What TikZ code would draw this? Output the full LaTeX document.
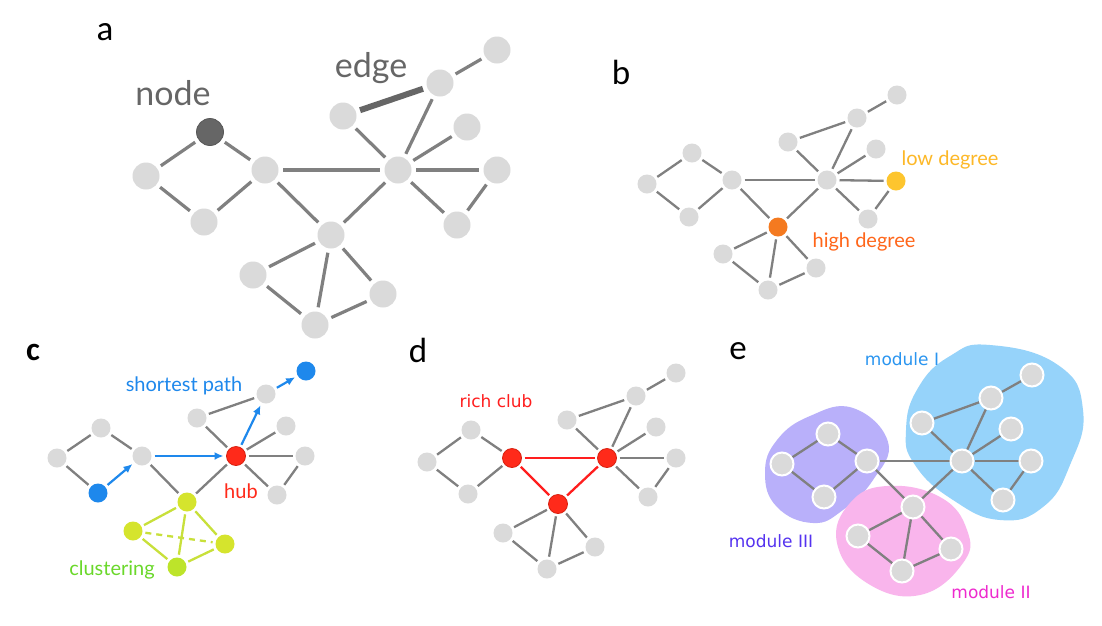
\documentclass[tikz,border=0pt]{standalone}
\usepackage{fontspec}
\setmainfont{Lato}
\newfontfamily\letterfont{Carlito}
\newfontfamily\vfont{DejaVu Sans}
\usetikzlibrary{arrows.meta}
\definecolor{ngray}{HTML}{DADADA}
\definecolor{egray}{HTML}{808080}
\definecolor{dgray}{HTML}{666666}
\definecolor{txtgray}{HTML}{666666}
\definecolor{yel}{HTML}{FDC52E}
\definecolor{yeltxt}{HTML}{FDB827}
\definecolor{ora}{HTML}{F47A20}
\definecolor{oratxt}{HTML}{FF661A}
\definecolor{blu}{HTML}{1E88EC}
\definecolor{redh}{HTML}{FF2A1A}
\definecolor{redo}{HTML}{D8200F}
\definecolor{grn}{HTML}{D5E42D}
\definecolor{grn2}{HTML}{BDE42A}
\definecolor{grnline}{HTML}{C8E03A}
\definecolor{grntxt}{HTML}{6AD82A}
\definecolor{richred}{HTML}{FF1E1E}
\definecolor{blobb}{HTML}{96D3FA}
\definecolor{blobp}{HTML}{B9B0FA}
\definecolor{blobk}{HTML}{F9B5EC}
\definecolor{mtxtb}{HTML}{2A95F0}
\definecolor{mtxtp}{HTML}{5533F0}
\definecolor{mtxtk}{HTML}{EE2ACE}
\pgfdeclarelayer{blobs}
\pgfdeclarelayer{edges}
\pgfsetlayers{blobs,edges,main}
\tikzset{
  pa/.style={circle,fill=ngray,inner sep=0pt,minimum size=27pt,outer sep=4.5pt},
  pb/.style={circle,fill=ngray,inner sep=0pt,minimum size=19pt,outer sep=3pt},
  pe/.style={circle,fill=ngray,draw=white,line width=2pt,inner sep=0pt,minimum size=23pt},
  ea/.style={draw=egray,line width=3.2pt},
  eb/.style={draw=egray,line width=2.3pt},
  panlab/.style={font=\letterfont\fontsize{35}{35}\selectfont,text=black,inner sep=0pt},
  biglab/.style={font=\fontsize{34}{34}\selectfont,text=txtgray,anchor=base,inner sep=0pt},
  smlab/.style={font=\fontsize{20}{20}\selectfont,anchor=base,inner sep=0pt},
  vlab/.style={font=\vfont\fontsize{17}{17}\selectfont,anchor=base,inner sep=0pt},
  barr/.style={draw=blu,line width=2.2pt,-{Latex[length=9pt,width=8pt]}},
  gline/.style={draw=grnline,line width=2.3pt},
  rline/.style={draw=richred,line width=2.3pt},
}
\begin{document}
\begin{tikzpicture}[x=1pt,y=-1pt]
\begin{pgfonlayer}{blobs}
\fill[white] (0,0) rectangle (1102,625);
\useasboundingbox (0,0) rectangle (1102,625);
\end{pgfonlayer}
% ---------------- panel a
\node[panlab] (la) at (105,32) {a};
\node[biglab] (tnode) at (173,105) {node};
\node[biglab] (tedge) at (371,77) {edge};
\node[pa] (aL) at (146,176) {};
\node[pa,fill=dgray,draw=dgray!85!black,line width=0.8pt] (aT) at (210,132) {};
\node[pa] (aB) at (204,222) {};
\node[pa] (aH1) at (265,170) {};
\node[pa] (aH) at (398,170) {};
\node[pa] (aEL) at (343,116) {};
\node[pa] (aTE) at (440,83) {};
\node[pa] (aTF) at (497,50) {};
\node[pa] (aRU) at (467,127) {};
\node[pa] (aR) at (497,170) {};
\node[pa] (aRL) at (457,225) {};
\node[pa] (aLH) at (331,235) {};
\node[pa] (aLL) at (253,275) {};
\node[pa] (aLR) at (383,294) {};
\node[pa] (aLB) at (315,325) {};
\begin{pgfonlayer}{edges}
\foreach \u/\v in {L/T,T/H1,L/B,B/H1,H1/H,H1/LH,H/LH,H/EL,TE/H,TE/TF,H/RU,H/R,H/RL,R/RL,LH/LL,LH/LB,LH/LR,LL/LB,LB/LR}
  \draw[ea] (a\u) -- (a\v);
\draw[draw=dgray,line width=6pt] (aEL) -- (aTE);
\end{pgfonlayer}
% ---------------- panel b
\node[panlab] (lb) at (621,72) {b};
\node[smlab,text=yeltxt] (tlow) at (950,165) {low degree};
\node[smlab,text=oratxt] (thigh) at (864,247) {high degree};
\node[pb] (bL) at (647,184) {};
\node[pb] (bT) at (692,153) {};
\node[pb] (bB) at (689,217) {};
\node[pb] (bH1) at (732,180) {};
\node[pb] (bH) at (827,180) {};
\node[pb] (bEL) at (788,142) {};
\node[pb] (bTE) at (857,118) {};
\node[pb] (bTF) at (897,95) {};
\node[pb] (bRU) at (876,149) {};
\node[pb,fill=yel] (bR) at (896,181) {};
\node[pb] (bRL) at (868,219) {};
\node[pb,fill=ora] (bLH) at (778,227) {};
\node[pb] (bLL) at (723,254) {};
\node[pb] (bLR) at (816,268) {};
\node[pb] (bLB) at (768,290) {};
\begin{pgfonlayer}{edges}
\foreach \u/\v in {L/T,T/H1,L/B,B/H1,H1/H,H1/LH,H/LH,H/EL,EL/TE,TE/H,TE/TF,H/RU,H/R,H/RL,R/RL,LH/LL,LH/LB,LH/LR,LL/LB,LB/LR}
  \draw[eb] (b\u) -- (b\v);
\end{pgfonlayer}
% ---------------- panel c
\node[panlab,font=\letterfont\bfseries\fontsize{33}{33}\selectfont] (lc) at (33,352) {c};
\node[smlab,text=blu] (tsp) at (184,391) {shortest path};
\node[smlab,text=redh] (thub) at (241,498) {hub};
\node[smlab,text=grntxt] (tclu) at (112,575) {clustering};
\node[pb] (cL) at (57,458) {};
\node[pb] (cT) at (101,428) {};
\node[pb,fill=blu] (cB) at (98,493) {};
\node[pb] (cH1) at (142,456) {};
\node[pb,fill=redh,draw=redo,line width=0.8pt] (cH) at (236,456) {};
\node[pb] (cEL) at (197,418) {};
\node[pb] (cTE) at (266,394) {};
\node[pb,fill=blu] (cTF) at (306,371) {};
\node[pb] (cRU) at (286,426) {};
\node[pb] (cR) at (305,456) {};
\node[pb] (cRL) at (277,495) {};
\node[pb,fill=grn] (cLH) at (187,502) {};
\node[pb,fill=grn] (cLL) at (133,531) {};
\node[pb,fill=grn] (cLR) at (225,544) {};
\node[pb,fill=grn2] (cLB) at (177,567) {};
\begin{pgfonlayer}{edges}
\foreach \u/\v in {L/T,T/H1,L/B,H1/LH,H/LH,H/EL,EL/TE,H/RU,H/R,H/RL,R/RL}
  \draw[eb] (c\u) -- (c\v);
\foreach \u/\v in {LH/LL,LH/LB,LH/LR,LL/LB,LB/LR}
  \draw[gline] (c\u) -- (c\v);
\draw[gline,dash pattern=on 6pt off 5pt] (cLL) -- (cLR);
\end{pgfonlayer}
\draw[barr] (cB) -- (cH1);
\draw[barr] (cH1) -- (cH);
\draw[barr] (cH) -- (cTE);
\draw[barr] (cTE) -- (cTF);
% ---------------- panel d
\node[panlab] (ld) at (418,350) {d};
\node[vlab,text=richred] (trich) at (496,407) {rich club};
\node[pb] (dL) at (427,462) {};
\node[pb] (dT) at (471,430) {};
\node[pb] (dB) at (468,494) {};
\node[pb,fill=redh,draw=redo,line width=0.8pt] (dH1) at (512,458) {};
\node[pb,fill=redh,draw=redo,line width=0.8pt] (dH) at (607,458) {};
\node[pb] (dEL) at (567,420) {};
\node[pb] (dTE) at (636,396) {};
\node[pb] (dTF) at (676,373) {};
\node[pb] (dRU) at (656,427) {};
\node[pb] (dR) at (676,458) {};
\node[pb] (dRL) at (648,497) {};
\node[pb,fill=redh,draw=redo,line width=0.8pt] (dLH) at (558,504) {};
\node[pb] (dLL) at (503,533) {};
\node[pb] (dLR) at (595,547) {};
\node[pb] (dLB) at (547,569) {};
\begin{pgfonlayer}{edges}
\foreach \u/\v in {L/T,T/H1,L/B,B/H1,H/EL,EL/TE,TE/H,TE/TF,H/RU,H/R,H/RL,R/RL,LH/LL,LH/LB,LH/LR,LL/LB,LB/LR}
  \draw[eb] (d\u) -- (d\v);
\foreach \u/\v in {H1/H,H1/LH,H/LH}
  \draw[rline] (d\u) -- (d\v);
\end{pgfonlayer}
% ---------------- panel e
\node[panlab] (le) at (738,351) {e};
\node[vlab,text=mtxtb] (tm1) at (902,365) {module I};
\node[vlab,text=mtxtp] (tm3) at (771,547) {module III};
\node[vlab,text=mtxtk] (tm2) at (991,598) {module II};
\begin{pgfonlayer}{blobs}
\fill[blobb] plot[smooth cycle,tension=0.8] coordinates {(990,345) (1058,365) (1083,410) (1070,465) (1043,507) (1000,520) (953,500) (915,465) (906,430) (918,388) (950,356)};
\fill[blobp] plot[smooth cycle,tension=0.75] coordinates {(853,408) (888,442) (873,480) (843,510) (813,523) (777,507) (765,473) (777,440) (810,416)};
\fill[blobk] plot[smooth cycle,tension=0.75] coordinates {(887,486) (940,497) (967,530) (963,563) (920,595) (867,583) (837,543) (850,503)};
\end{pgfonlayer}
\node[pe] (eL) at (782,464) {};
\node[pe] (eT) at (828,434) {};
\node[pe] (eB) at (824,497) {};
\node[pe] (eH1) at (867,461) {};
\node[pe] (eH) at (962,461) {};
\node[pe] (eEL) at (922,423) {};
\node[pe] (eTE) at (991,398) {};
\node[pe] (eTF) at (1032,375) {};
\node[pe] (eRU) at (1011,429) {};
\node[pe] (eR) at (1031,461) {};
\node[pe] (eRL) at (1003,500) {};
\node[pe] (eLH) at (913,507) {};
\node[pe] (eLL) at (858,536) {};
\node[pe] (eLR) at (951,549) {};
\node[pe] (eLB) at (902,571) {};
\begin{pgfonlayer}{edges}
\foreach \u/\v in {L/T,T/H1,L/B,B/H1,H1/H,H1/LH,H/LH,H/EL,EL/TE,TE/H,TE/TF,H/RU,H/R,H/RL,R/RL,LH/LL,LH/LB,LH/LR,LL/LB,LB/LR}
  \draw[eb] (e\u) -- (e\v);
\end{pgfonlayer}
\end{tikzpicture}
\end{document}
